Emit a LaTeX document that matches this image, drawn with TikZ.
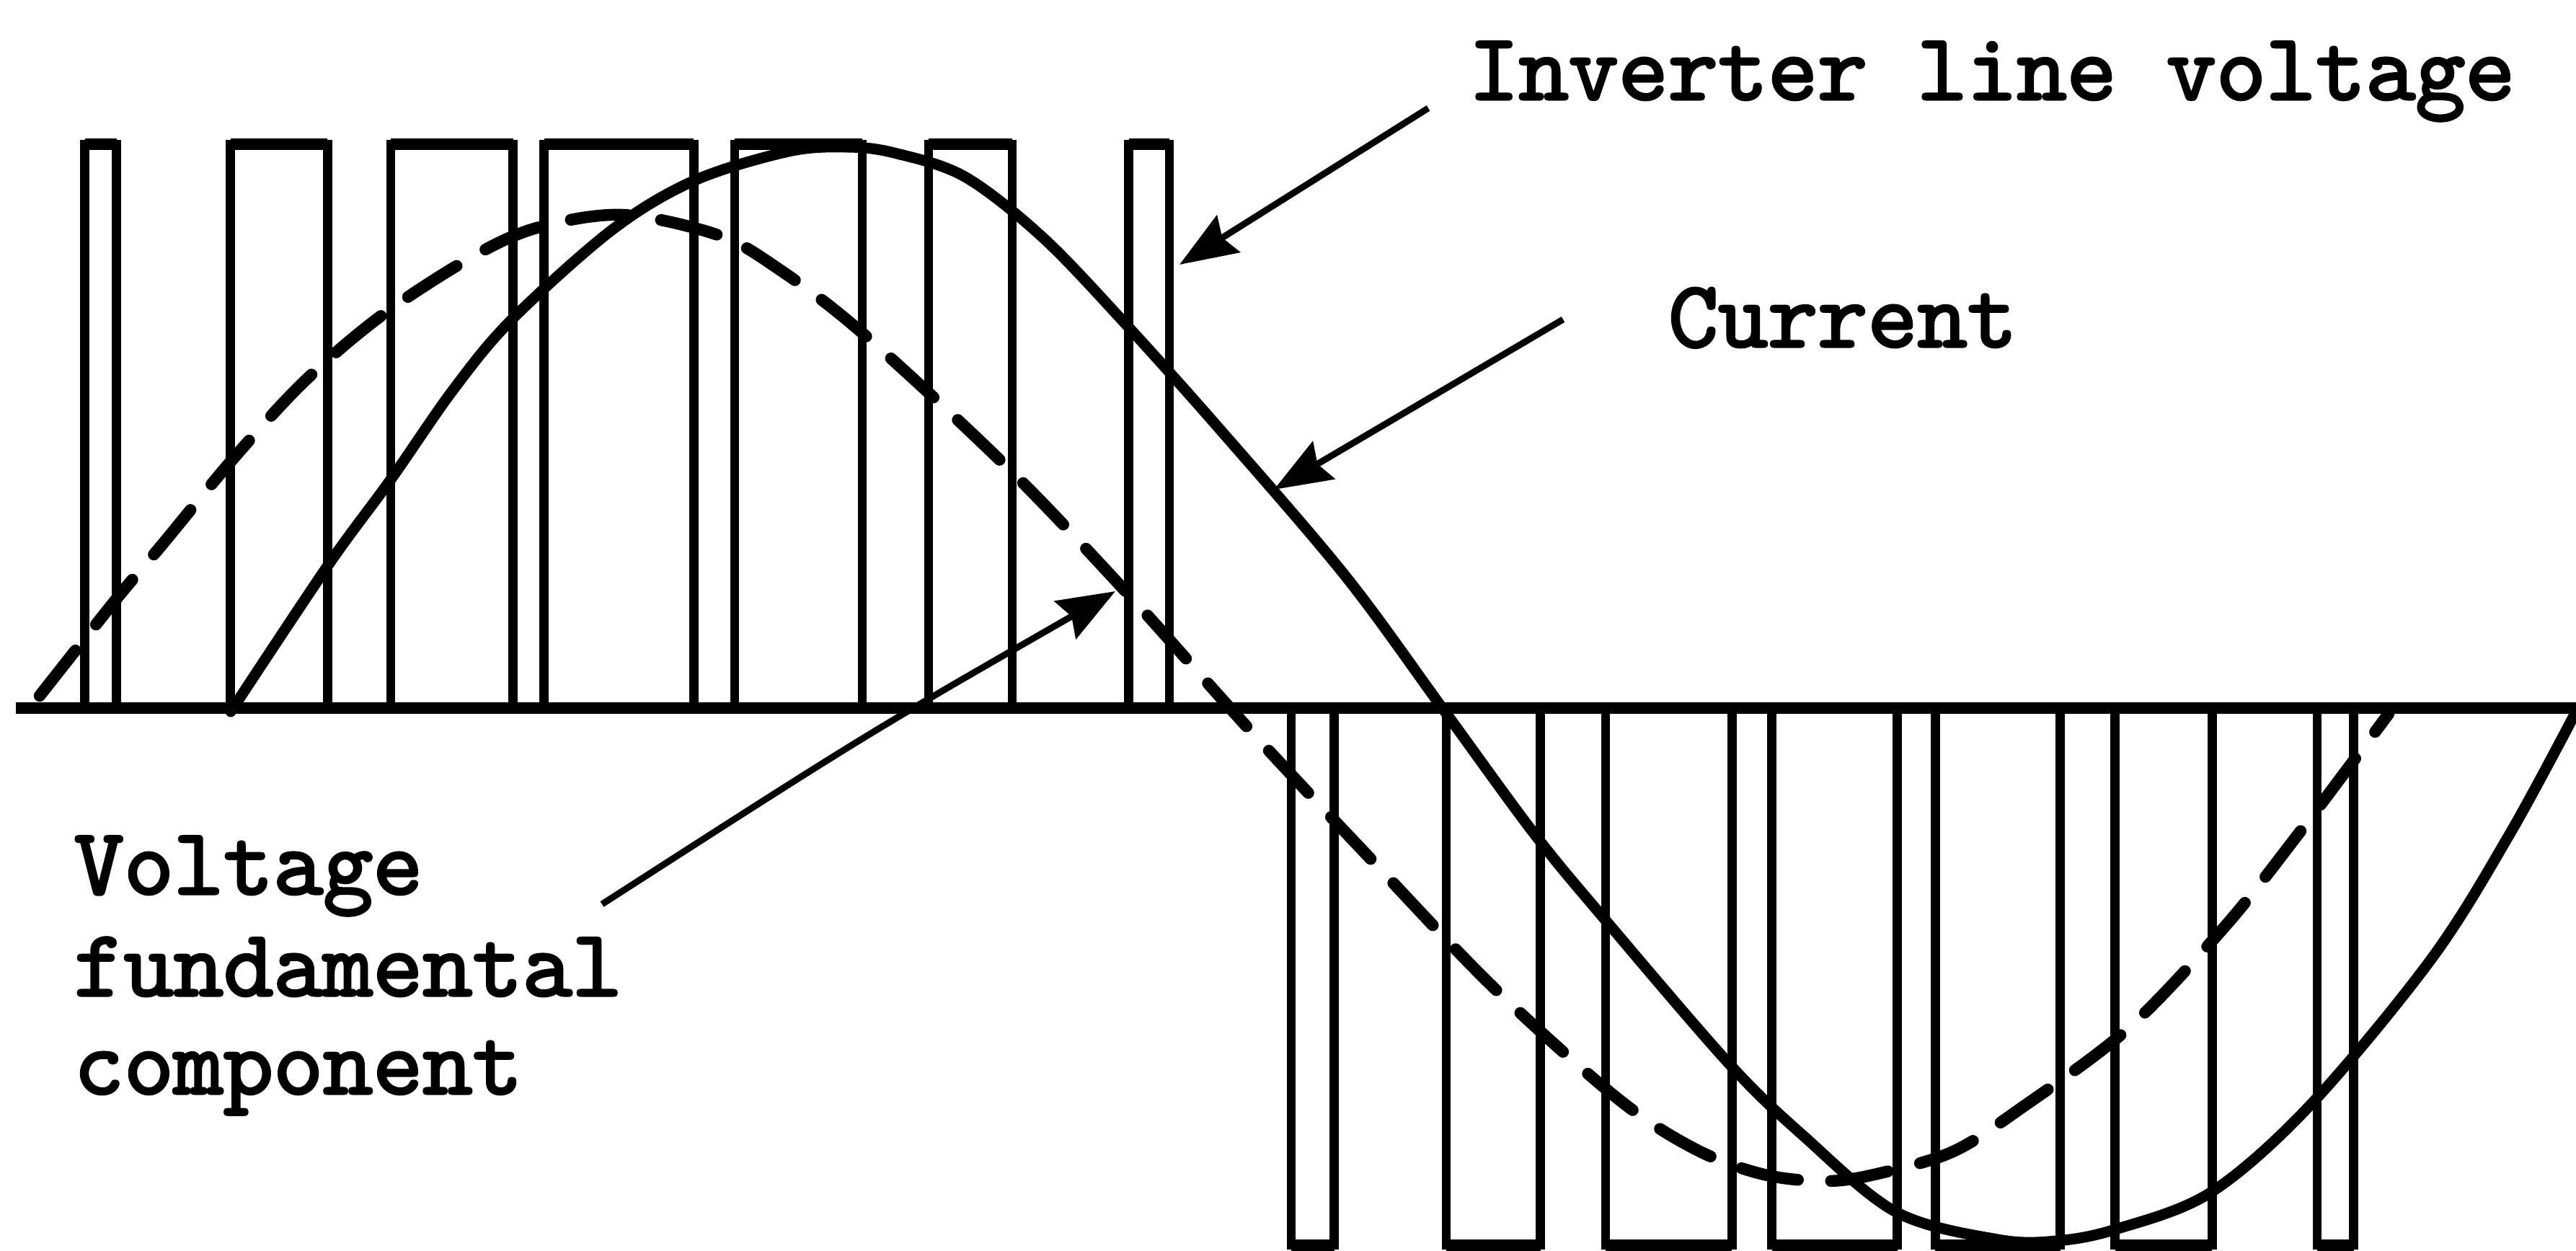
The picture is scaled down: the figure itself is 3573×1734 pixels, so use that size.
\documentclass[tikz,border=0pt]{standalone}
\usepackage{fontspec}
\newfontfamily\labelfont{lmmono10-regular.otf}[FakeBold=2.5]
\usetikzlibrary{arrows.meta}
\tikzset{
  pulse/.style={line width=3.2pt, line join=miter},
  pulsetop/.style={line width=3.8pt},
  axisline/.style={line width=3.8pt},
  currentwave/.style={line width=3.75pt, line join=round, line cap=round},
  fundwave/.style={line width=4.1pt, line cap=round, dash pattern=on 20pt off 11.5pt},
  callout/.style={line width=2.25pt, -{Stealth[length=20pt, width=15pt, inset=2.5pt]}},
  lbl/.style={font=\fontsize{32.9pt}{38pt}\selectfont\labelfont, inner sep=0pt},
}
\begin{document}
\begin{tikzpicture}[x=0.25pt, y=-0.25pt]
\useasboundingbox (0,0) rectangle (3573,1734);
\fill[white] (0,0) rectangle (3573,1734);

% upper pulses
\foreach \a/\b in {117.6/161.5, 319.8/454.3, 542/711.8, 754.6/962.2, 1019/1196, 1288/1404, 1565.6/1622}{
  \draw[pulse] (\a,982) -- (\a,200) -- (\b,200) -- (\b,982);
  \draw[pulsetop] (\a,200) -- (\b,200);
}
% lower pulses
\foreach \a/\b in {1791/1850.6, 2006/2136.8, 2227/2402.4, 2457.7/2631.7, 2684.3/2857.8, 2933.7/3068.1, 3214/3264.7}{
  \draw[pulse] (\a,982) -- (\a,1727) -- (\b,1727) -- (\b,982);
  \draw[pulsetop] (\a,1727) -- (\b,1727);
}
% baseline
\draw[axisline] (22,982) -- (3573,982);

% current (solid)
\draw[currentwave] plot[smooth, tension=0.55] coordinates {
 (320,987) (455,784) (542,665) (629,540) (710,443) (850,318) (964,250)
 (1094,210) (1175,204) (1240,212) (1338,245) (1446,329) (1560,448)
 (1696,600) (1867,800) (2002,984) (2127,1155) (2225,1274) (2398,1475)
 (2500,1574) (2630,1681) (2771,1719) (2852,1721) (2934,1705) (3066,1654)
 (3205,1532) (3373,1329) (3482,1155) (3573,987)};

% voltage fundamental (dashed)
\draw[fundwave] plot[smooth, tension=0.55] coordinates {
 (55,965) (162,830) (226,754) (321,639) (421,530) (530,437) (657,355)
 (748,315) (865,298) (996,326) (1077,371) (1194,460) (1396,647) (1562,821)
 (1735,1014) (1899,1189) (2071,1369) (2243,1523) (2352,1594) (2447,1629)
 (2535,1638) (2608,1627) (2709,1597) (2803,1537) (2951,1427) (3085,1286)
 (3183,1163) (3313,990)};

% labels
\node[lbl, anchor=base] (ilv) at (2763,138) {Inverter line voltage};
\node[lbl, anchor=base] (cur) at (2556,481) {Current};
\node[lbl, anchor=base west] (vf1) at (102,1240) {Voltage};
\node[lbl, anchor=base west] (vf2) at (102,1381) {fundamental};
\node[lbl, anchor=base west] (vf3) at (102,1517) {component};

% callout arrows
\coordinate (ilvStart) at (1981,150);
\coordinate (ilvTip) at (1636,367);
\coordinate (curStart) at (2168,443);
\coordinate (curTip) at (1767,679);
\coordinate (vfStart) at (835,1254);
\coordinate (vfTip) at (1547,820);
\draw[callout] (ilvStart) -- (ilvTip);
\draw[callout] (curStart) -- (curTip);
\draw[callout] (vfStart) .. controls (1202,1018) .. (vfTip);
\end{tikzpicture}
\end{document}
